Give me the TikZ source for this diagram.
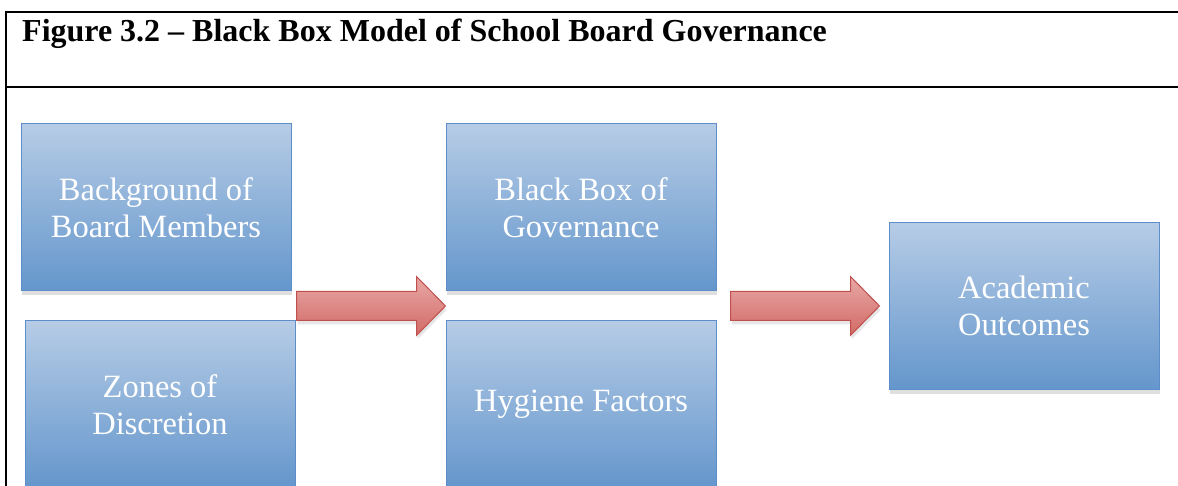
\documentclass[tikz,border=0pt]{standalone}
\usepackage{fontspec}
\setmainfont{Liberation Serif}
\usetikzlibrary{shadows,calc}
\definecolor{boxtop}{RGB}{182,204,230}
\definecolor{boxbot}{RGB}{100,150,204}
\definecolor{boxline}{RGB}{94,142,202}
\definecolor{arrowtop}{RGB}{232,168,166}
\definecolor{arrowbot}{RGB}{210,106,102}
\definecolor{arrowline}{RGB}{192,80,77}
\begin{document}
\begin{tikzpicture}[x=1pt,y=-1pt,
  box/.style={rectangle, draw=boxline, line width=1pt, top color=boxtop, bottom color=boxbot,
    minimum width=270pt, minimum height=167pt, text=white, align=center,
    font=\fontsize{32.5}{37}\selectfont,
    drop shadow={opacity=0.25, shadow xshift=1pt, shadow yshift=-4pt}},
  bigarrow/.style={draw=arrowline, line width=1pt, top color=arrowtop, bottom color=arrowbot,
    line join=miter, drop shadow={opacity=0.2, shadow xshift=1pt, shadow yshift=-4pt}}]
\useasboundingbox (0,0) rectangle (1178,486);
\clip (0,0) rectangle (1178,486);

% frame of the table
\draw[line width=2pt] (6,490) -- (6,12) -- (1180,12);
\draw[line width=2pt] (6,87) -- (1180,87);
\node[anchor=base west, inner sep=0pt, font=\bfseries\fontsize{32}{36}\selectfont] (title) at (22,42)
  {Figure 3.2 -- Black Box Model of School Board Governance};

% boxes
\node[box] (bg) at (156,207.5) {Background of\\Board Members};
\node[box] (zd) at (160,404.5) {Zones of\\Discretion};
\node[box] (bb) at (581,207.5) {Black Box of\\Governance};
\node[box] (hf) at (581,404.5) {Hygiene Factors};
\node[box] (ao) at (1024,306) {Academic\\Outcomes};

% block arrows
\coordinate (a1) at ($(zd.north east)!0.5!(bg.south east)+(3,0)$);
\coordinate (a1t) at ($(bb.south west)!0.5!(hf.north west)$);
\draw[bigarrow] ($(a1)+(0,-14.5)$) -- ($(a1t)+(-29,-14.5)$) -- ($(a1t)+(-29,-29.5)$) -- (a1t)
  -- ($(a1t)+(-29,29.5)$) -- ($(a1t)+(-29,14.5)$) -- ($(a1)+(0,14.5)$) -- cycle;
\coordinate (a2) at ($(bb.south east)!0.5!(hf.north east)+(14,0)$);
\coordinate (a2t) at ([xshift=-9pt]ao.west);
\draw[bigarrow] ($(a2)+(0,-14.5)$) -- ($(a2t)+(-29,-14.5)$) -- ($(a2t)+(-29,-29.5)$) -- (a2t)
  -- ($(a2t)+(-29,29.5)$) -- ($(a2t)+(-29,14.5)$) -- ($(a2)+(0,14.5)$) -- cycle;

\end{tikzpicture}
\end{document}
